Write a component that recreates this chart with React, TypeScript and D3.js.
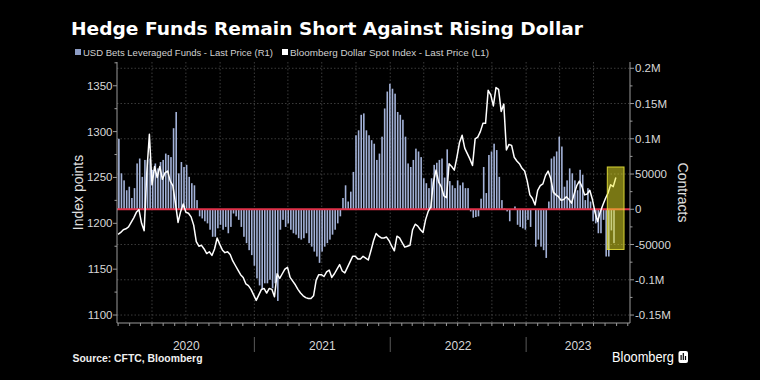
import React from "react";
import * as d3 from "d3";

// ---- data ----
const lineStart = new Date(2020, 0, 1); // weekly samples of the index
const barStart = new Date(2020, 0, 3); // weekly CFTC reports

const dollarIndex = [
  1188, 1190, 1193, 1194, 1196, 1201, 1206, 1212, 1215, 1200,
  1192, 1255, 1297, 1242, 1262, 1250, 1262, 1248, 1255, 1257,
  1246, 1241, 1222, 1201, 1213, 1221, 1212, 1211, 1207, 1198,
  1180, 1175, 1176, 1172, 1167, 1169, 1165, 1172, 1184, 1177,
  1171, 1168, 1169, 1166, 1159, 1154, 1149, 1144, 1141, 1134,
  1132, 1128, 1122, 1116, 1122, 1128, 1129, 1124, 1129, 1128,
  1120, 1145, 1140, 1145, 1150, 1152, 1141, 1137, 1133, 1128,
  1124, 1121, 1119, 1118, 1118, 1121, 1138, 1144, 1144, 1142,
  1147, 1149, 1141, 1145, 1150, 1155, 1148, 1146, 1152, 1158,
  1164, 1164, 1161, 1161, 1164, 1162, 1160, 1170, 1181, 1189,
  1186, 1184, 1184, 1185, 1181, 1175, 1170, 1186, 1184, 1179,
  1174, 1175, 1176, 1193, 1199, 1197, 1193, 1190, 1204, 1213,
  1218, 1245, 1258, 1245, 1240, 1230, 1228, 1265, 1262, 1258,
  1272, 1288, 1296, 1282, 1276, 1270, 1263, 1292, 1294, 1300,
  1309, 1309, 1345, 1340, 1328, 1348, 1346, 1322, 1330, 1280,
  1286, 1285, 1272, 1268, 1265, 1260, 1257, 1246, 1231, 1227,
  1220, 1236, 1241, 1243, 1252, 1257, 1249, 1234, 1231, 1229,
  1225, 1226, 1229, 1226, 1222, 1232, 1241, 1246, 1240, 1231,
  1232, 1236, 1226, 1212, 1202, 1212, 1220, 1227, 1233, 1242,
  1240, 1250,
];

// thousands of contracts
const usdBetsK = [
  100, 51, 41, 27, 32, 16, 30, 65, 72, 46,
  70, 70, 72, 56, 65, 58, 67, 70, 79, 77,
  74, 115, 138, 51, 67, 60, 63, 46, 37, 34,
  13, -10, -13, -17, -20, -29, -39, -39, -27, -22,
  -29, -25, -34, -25, -6, -10, -15, -25, -39, -48,
  -58, -65, -80, -98, -108, -114, -105, -105, -100, -112,
  -105, -130,
  -29, -15, -25, -20, -29, -34, -36, -41, -43, -41,
  -34, -48, -53, -60, -67, -76, -60, -53, -48, -43,
  -36, -29, -20, -10,
  16, 34, 11, 25, 53, 105, 112, 134, 136, 112,
  105, 98, 93, 70, 79, 103, 143, 167, 178, 171,
  164, 138, 134, 127, 103, 65, 60, 70, 86, 82,
  74, 44, 37, 30, 44, 63,
  66, 70, 72, 45, 85, 40, 34, 30, 41, 34,
  38, 30, 30, -3, -12, -11, -10, 15, 60, 23,
  77, 82, 93, 84, 46, 13, 1, -3, -17, -1,
  4, -22, -25, -27, -29, -15, -25, -1, -53, -43,
  -53, -58, -69, 11, 72, 75, 82, 103, 89, 32,
  41, 58, 51, 41, 27, 56, 49, 13, 30, 11,
  -17, -20, -34, -34, -15, -67, -67, -30, -48,
];

const leftTicks = [1100, 1150, 1200, 1250, 1300, 1350];
const rightTicks = [-150000, -100000, -50000, 0, 50000, 100000, 150000, 200000];
const rightTickLabels = ["-0.15M", "-0.1M", "-50000", "0", "50000", "0.1M", "0.15M", "0.2M"];
const yearLabels = ["2020", "2021", "2022", "2023"];
const highlightDates = [new Date(2023, 7, 7), new Date(2023, 8, 21)];
const highlightContracts = [-57000, 60000];

const title = "Hedge Funds Remain Short Against Rising Dollar";
const legendBars = "USD Bets Leveraged Funds - Last Price (R1)";
const legendLine = "Bloomberg Dollar Spot Index - Last Price (L1)";
const source = "Source: CFTC, Bloomberg";

const W = 760;
const H = 380;
const M = { left: 117, right: 630, top: 62, bottom: 323 };
const FONT = "'Liberation Sans', Arial, sans-serif";

const DAY = 864e5;

export default function App() {
  const x = d3
    .scaleTime()
    .domain([new Date(2019, 11, 29), new Date(2023, 9, 7)])
    .range([M.left, M.right]);
  const yL = d3.scaleLinear().domain([1091.3, 1375.9]).range([M.bottom, M.top]);
  const yR = d3.scaleLinear().domain([-161300, 208900]).range([M.bottom, M.top]);

  const lineData = dollarIndex.map((v, i) => ({
    d: new Date(lineStart.getTime() + i * 7 * DAY),
    v,
  }));
  const barData = usdBetsK.map((v, i) => ({
    d: new Date(barStart.getTime() + i * 7 * DAY),
    v: v * 1000,
  }));

  const linePath = d3
    .line<{ d: Date; v: number }>()
    .x((p) => x(p.d))
    .y((p) => yL(p.v))(lineData);

  const quarters = d3.timeMonth
    .every(3)!
    .range(new Date(2020, 3, 1), new Date(2023, 8, 1));
  const months = d3.timeMonth.range(new Date(2020, 0, 1), new Date(2023, 9, 2));
  const yearStarts = [2021, 2022, 2023].map((y) => new Date(y, 0, 1));
  const yearCenters = [2020, 2021, 2022, 2023].map((y) => {
    const a = Math.max(x(new Date(y, 0, 1)), M.left);
    const b = Math.min(x(new Date(y + 1, 0, 1)), M.right);
    return (a + b) / 2;
  });
  const leftMinor = d3.range(1100, 1376, 25);
  const rightMinor = d3.range(-150000, 208000, 25000);

  const zeroY = yR(0);
  const barW = 1.6;

  return (
    <svg width={W} height={H} style={{ display: "block", position: "absolute", left: 0, top: 0, background: "#000" }}>
      <rect x={0} y={0} width={W} height={H} fill="#000" />

      {/* title */}
      <text x={71} y={35} fill="#fff" fontFamily="'DejaVu Sans', sans-serif" fontWeight="bold" fontSize={18.5} textLength={512} lengthAdjust="spacingAndGlyphs">
        {title}
      </text>

      {/* legend */}
      <rect x={75} y={49} width={6} height={6} fill="#8c9cc4" />
      <text x={83} y={55.5} fill="#d0d0d0" fontFamily={FONT} fontSize={9.5} textLength={190} lengthAdjust="spacingAndGlyphs">
        {legendBars}
      </text>
      <rect x={282} y={49} width={6} height={6} fill="#fff" />
      <text x={290} y={55.5} fill="#d0d0d0" fontFamily={FONT} fontSize={9.5} textLength={199} lengthAdjust="spacingAndGlyphs">
        {legendLine}
      </text>

      {/* gridlines */}
      <g stroke="#4a4a4a" strokeWidth={0.8} strokeDasharray="1.5,2">
        {rightTicks.filter((t) => t !== 0).map((t) => (
          <line key={"h" + t} x1={M.left} x2={M.right} y1={yR(t)} y2={yR(t)} />
        ))}
        {quarters.map((q) => (
          <line key={"v" + q.getTime()} x1={x(q)} x2={x(q)} y1={M.top} y2={M.bottom} />
        ))}
      </g>

      {/* bars */}
      <g fill="#a3b2d8">
        {barData.map((b, i) => (
          <rect
            key={i}
            x={x(b.d) - barW / 2}
            width={barW}
            y={Math.min(yR(b.v), zeroY)}
            height={Math.abs(yR(b.v) - zeroY)}
          />
        ))}
      </g>

      {/* zero line */}
      <line x1={M.left} x2={M.right} y1={zeroY} y2={zeroY} stroke="#e0324a" strokeWidth={2} />

      {/* dollar index */}
      <path d={linePath || ""} fill="none" stroke="#fff" strokeWidth={1.5} strokeLinejoin="round" />

      {/* highlight */}
      <rect
        x={x(highlightDates[0])}
        width={x(highlightDates[1]) - x(highlightDates[0])}
        y={yR(highlightContracts[1])}
        height={yR(highlightContracts[0]) - yR(highlightContracts[1])}
        fill="rgba(240,235,40,0.5)"
        stroke="rgba(240,235,60,0.85)"
        strokeWidth={1}
      />

      {/* left axis */}
      <g stroke="#9a9a9a" strokeWidth={1}>
        <line x1={M.left} x2={M.left} y1={M.top} y2={M.bottom} />
        {leftMinor.map((t) => (
          <line key={"lm" + t} x1={M.left - (t % 50 === 0 ? 4 : 2.5)} x2={M.left} y1={yL(t)} y2={yL(t)} />
        ))}
        <line x1={M.right} x2={M.right} y1={M.top} y2={M.bottom} />
        {rightMinor.map((t) => (
          <line key={"rm" + t} x1={M.right} x2={M.right + (t % 50000 === 0 ? 4 : 2.5)} y1={yR(t)} y2={yR(t)} />
        ))}
        <line x1={M.left} x2={M.right} y1={M.bottom} y2={M.bottom} />
        {months.map((m) => (
          <line key={"mt" + m.getTime()} x1={x(m)} x2={x(m)} y1={M.bottom} y2={M.bottom + 3} />
        ))}
      </g>
      <g fill="#d8d8d8" fontFamily={FONT} fontSize={11.5}>
        {leftTicks.map((t) => (
          <text key={"lt" + t} x={M.left - 4.5} y={yL(t) + 4} textAnchor="end">
            {t}
          </text>
        ))}
        {rightTicks.map((t, i) => (
          <text key={"rt" + t} x={M.right + 5} y={yR(t) + 4}>
            {rightTickLabels[i]}
          </text>
        ))}
      </g>
      <text
        transform={`translate(83,192.5) rotate(-90)`}
        textAnchor="middle"
        fill="#e0e0e0"
        fontFamily={FONT}
        fontSize={14}
      >
        Index points
      </text>
      <text
        transform={`translate(678,192.5) rotate(90)`}
        textAnchor="middle"
        fill="#e0e0e0"
        fontFamily={FONT}
        fontSize={14}
      >
        Contracts
      </text>

      {/* x axis year labels */}
      <g stroke="#5a5a5a" strokeWidth={1}>
        {yearStarts.map((d) => (
          <line key={"ys" + d.getTime()} x1={x(d)} x2={x(d)} y1={337} y2={352} />
        ))}
      </g>
      <g fill="#d8d8d8" fontFamily={FONT} fontSize={12} textAnchor="middle">
        {yearLabels.map((l, i) => (
          <text key={l} x={yearCenters[i]} y={349.5}>
            {l}
          </text>
        ))}
      </g>

      {/* footer */}
      <text x={72.5} y={362} fill="#f0f0f0" fontFamily={FONT} fontWeight="bold" fontSize={10.5} textLength={130} lengthAdjust="spacingAndGlyphs">
        {source}
      </text>
      <text x={612} y={362} fill="#fff" fontFamily={FONT} fontSize={14} textLength={62} lengthAdjust="spacingAndGlyphs">
        Bloomberg
      </text>
      <rect x={678.5} y={351} width={9.5} height={12} rx={2} fill="#fff" />
      <g fill="#000">
        <rect x={680.5} y={355} width={1.2} height={5} />
        <rect x={682.7} y={353} width={1.2} height={7} />
        <rect x={684.9} y={356} width={1.2} height={4} />
      </g>
    </svg>
  );
}
